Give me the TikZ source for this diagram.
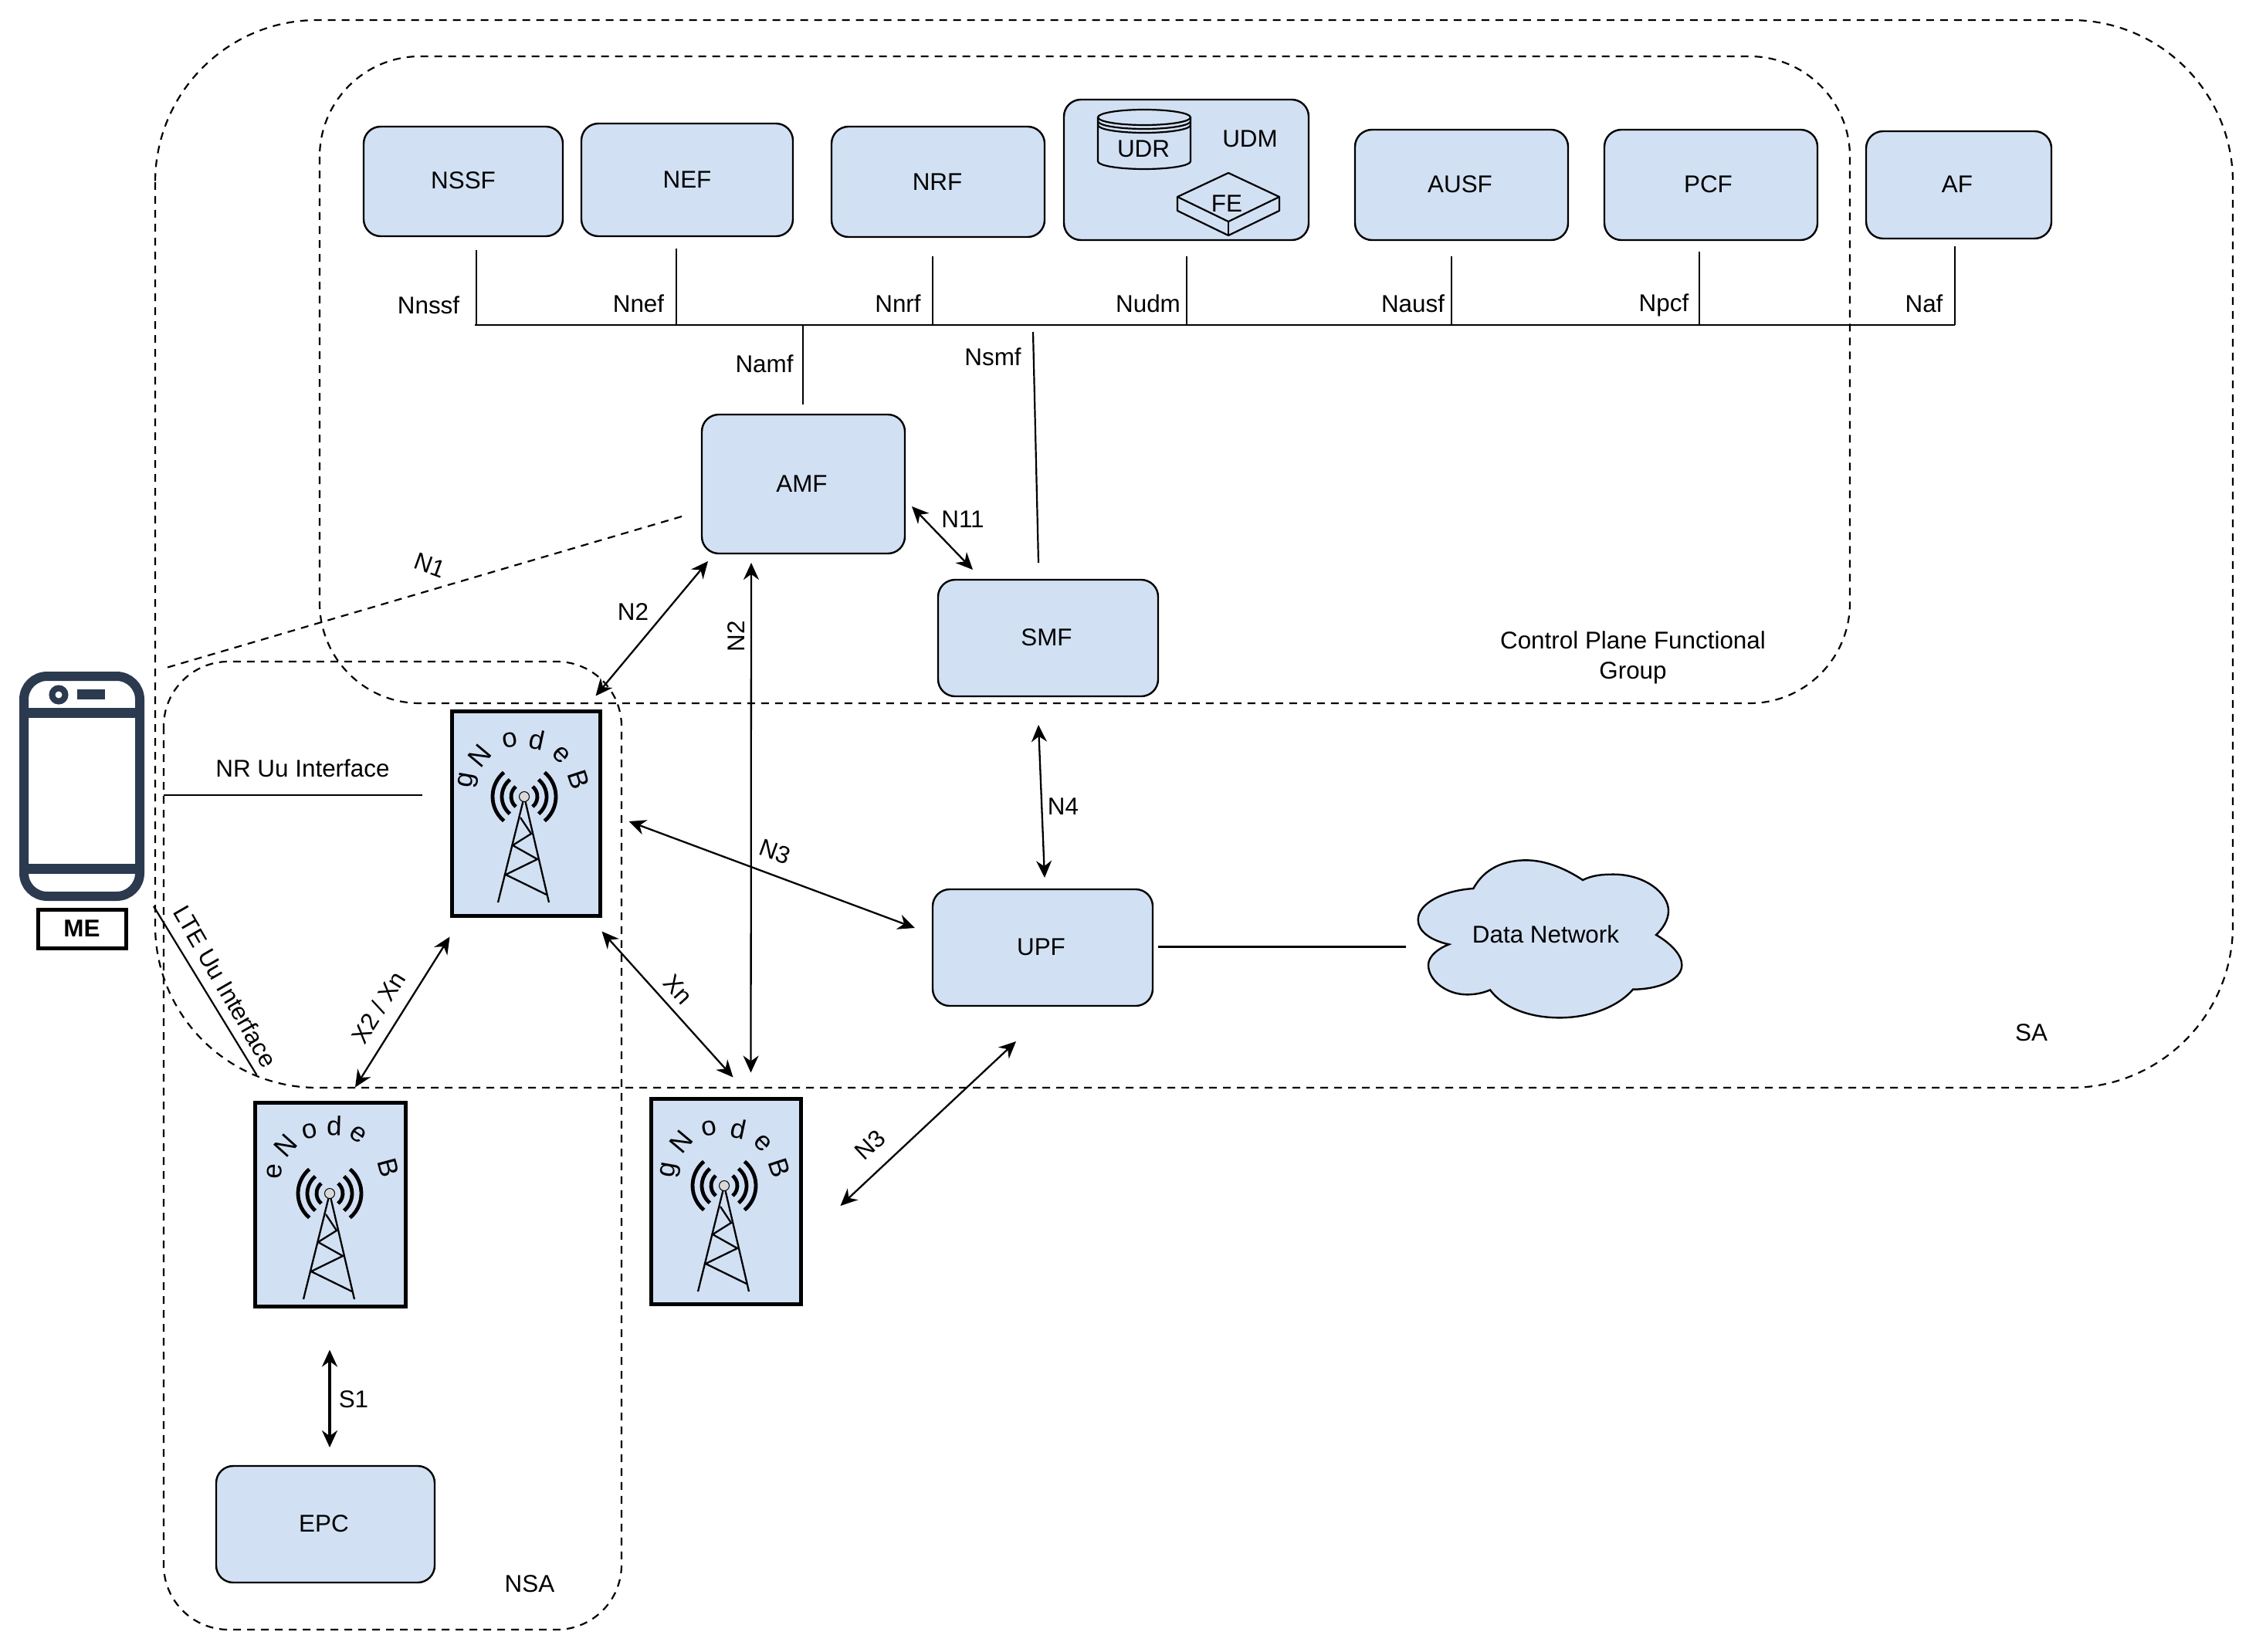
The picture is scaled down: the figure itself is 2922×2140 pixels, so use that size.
\documentclass[tikz,border=0pt]{standalone}
\usepackage{fontspec}
\setmainfont{Liberation Sans}
\usetikzlibrary{arrows.meta,calc}
\definecolor{fnblue}{HTML}{D2E0F3}
\definecolor{phonecol}{HTML}{2B3A4F}
\tikzset{
  every node/.style={font=\fontsize{15.7pt}{19.5pt}\selectfont,text=black},
  fnbox/.style={draw=black,fill=fnblue,line width=1.2pt,rounded corners=11pt,outer sep=0pt,inner sep=0pt},
  bsbox/.style={draw=black,fill=fnblue,line width=2.8pt,outer sep=0pt,inner sep=0pt},
  grp/.style={draw=black,line width=1.1pt,dash pattern=on 5pt off 4pt},
  wire/.style={draw=black,line width=1.1pt},
  bi/.style={draw=black,line width=1.15pt,{Stealth[length=11pt,width=10pt]}-{Stealth[length=11pt,width=10pt]}},
  lbl/.style={inner sep=0pt,align=center},
  ltr/.style={inner sep=0pt,font=\fontsize{17.5pt}{20pt}\selectfont},
  wave/.style={line width=2.4pt,draw=black},
  tw/.style={line width=1.15pt,draw=black},
}
\newcommand{\bxx}[7]{%
  \pgfmathsetmacro\myCx{(#3+#5)/2}\pgfmathsetmacro\myCy{(#4+#6)/2}%
  \pgfmathsetmacro\myW{(#5-#3)*0.5}\pgfmathsetmacro\myH{(#6-#4)*0.5}%
  \node[#1,minimum width=\myW pt,minimum height=\myH pt] (#2) at (\myCx,\myCy) {#7};}
\newcommand{\tx}[3]{\hspace*{#1}\raisebox{#2}{#3}}
\newcommand{\lb}[5]{\node[lbl,rotate=#4] (#1) at (#2,#3) {#5};}
\newcommand{\lt}[5]{\node[ltr,rotate=#4] (#1) at (#2,#3) {#5};}
\newcommand{\tower}[2]{%
  \begin{scope}[shift={(#1,#2)}]
    \foreach \rr in {17,29,41}{
      \draw[wave] (96,113) ++(130:\rr) arc[start angle=130,end angle=230,radius=\rr];
      \draw[wave] (96,113) ++(50:\rr) arc[start angle=50,end angle=-50,radius=\rr];
    }
    \draw[tw] (62,250) -- (96,113) -- (128,250);
    \draw[tw] (91,140) -- (105,161) -- (81,176) -- (113,194) -- (72,214) -- (125,240);
    \filldraw[line width=0.5pt,draw=black,fill=black!15] (96,113) circle[radius=6.5];
  \end{scope}}
\begin{document}
\begin{tikzpicture}[x=0.5pt,y=-0.5pt]
\useasboundingbox (0,0) rectangle (2922,2140);
\fill[white] (0,0) rectangle (2922,2140);
% groups
\draw[grp,rounded corners=105pt] (201,26) rectangle (2892,1409);
\draw[grp,rounded corners=65pt] (414,73) rectangle (2396,911);
\draw[grp,rounded corners=42pt] (212,857) rectangle (805,2111);
% functions
\bxx{fnbox}{nssf}{471}{164}{729}{306}{\tx{0pt}{1pt}{NSSF}}
\bxx{fnbox}{nef}{753}{160}{1027}{306}{NEF}
\bxx{fnbox}{nrf}{1077}{164}{1353}{307}{\tx{-1pt}{0pt}{NRF}}
\bxx{fnbox}{udm}{1378}{129}{1695}{311}{}
\bxx{fnbox}{ausf}{1755}{168}{2031}{311}{\tx{-2pt}{1pt}{AUSF}}
\bxx{fnbox}{pcf}{2078}{168}{2354}{311}{\tx{-3.5pt}{1pt}{PCF}}
\bxx{fnbox}{af}{2417}{170}{2657}{309}{\tx{-2pt}{1pt}{AF}}
\bxx{fnbox}{amf}{909}{537}{1172}{717}{\tx{-2pt}{0pt}{AMF}}
\bxx{fnbox}{smf}{1215}{751}{1500}{902}{\tx{-2pt}{1pt}{SMF}}
\bxx{fnbox}{upf}{1208}{1152}{1493}{1303}{\tx{-2pt}{1pt}{UPF}}
\bxx{fnbox}{epc}{280}{1899}{563}{2050}{\tx{-2pt}{1pt}{EPC}}
% UDM content
\lb{udmlabel}{1619}{180}{0}{UDM}
\draw[line width=1.1pt,fill=fnblue] (1422,152) -- (1422,209) arc[start angle=180,end angle=0,x radius=60,y radius=10] -- (1542,152);
\draw[line width=1.1pt] (1482,152) ellipse[x radius=60,y radius=10];
\draw[line width=1.1pt] (1422,157) arc[start angle=180,end angle=0,x radius=60,y radius=10];
\draw[line width=1.1pt] (1422,162) arc[start angle=180,end angle=0,x radius=60,y radius=10];
\lb{udrlabel}{1481}{193}{0}{UDR}
\draw[line width=1.1pt,line join=round] (1591,224) -- (1657,255) -- (1591,287) -- (1525,255) -- cycle;
\draw[line width=1.1pt,line join=round] (1525,255) -- (1525,273) -- (1591,305) -- (1657,273) -- (1657,255);
\draw[line width=1.1pt] (1591,287) -- (1591,305);
\lb{felabel}{1589}{264}{0}{FE}
% base stations
\bxx{bsbox}{gnba}{585.5}{921.5}{777.5}{1186.5}{}
\bxx{bsbox}{enb}{330.5}{1428.5}{525.5}{1692.5}{}
\bxx{bsbox}{gnbb}{843.5}{1423.5}{1037.5}{1689.5}{}
\tower{583}{919}
\tower{331}{1433}
\tower{842}{1423}
\lt{ga1}{607}{1011}{80}{g}\lt{ga2}{621}{979}{50}{N}\lt{ga3}{660}{959}{10}{o}\lt{ga4}{696}{958}{-12}{d}\lt{ga5}{727}{978}{-45}{e}\lt{ga6}{750}{1010}{-72}{B}
\lt{ea1}{356}{1517}{88}{e}\lt{ea2}{370}{1484}{48}{N}\lt{ea3}{401}{1465}{12}{o}\lt{ea4}{433}{1458}{-2}{d}\lt{ea5}{464}{1469}{-35}{e}\lt{ea6}{503}{1513}{-75}{B}
\lt{gb1}{869}{1516}{80}{g}\lt{gb2}{882}{1479}{50}{N}\lt{gb3}{918}{1462}{10}{o}\lt{gb4}{957}{1462}{-12}{d}\lt{gb5}{988}{1481}{-45}{e}\lt{gb6}{1010}{1513}{-72}{B}
% cloud
\begin{scope}[shift={(1800,1080)},x=0.16667pt,y=-0.16667pt]
\filldraw[fill=fnblue,draw=black,line width=1.2pt] (325,213) .. controls (370,130) and (450,103) .. (530,103) .. controls (610,103) and (690,140) .. (750,180)
 .. controls (790,160) and (830,158) .. (870,158) .. controls (990,158) and (1083,230) .. (1083,300) .. controls (1083,335) and (1060,370) .. (1035,393)
 .. controls (1090,425) and (1135,470) .. (1135,510) .. controls (1135,570) and (1040,605) .. (945,605)
 .. controls (890,670) and (780,715) .. (660,715) .. controls (540,715) and (440,675) .. (390,607)
 .. controls (360,620) and (330,625) .. (300,625) .. controls (220,625) and (150,570) .. (150,510) .. controls (150,475) and (190,445) .. (230,430)
 .. controls (160,415) and (110,380) .. (110,335) .. controls (110,270) and (210,220) .. (325,213) -- cycle;
\end{scope}
\lb{cloud}{2002}{1210}{0}{Data Network}
\coordinate (cloudw) at (1821,1226);
% phone
\node[draw=phonecol,fill=white,line width=6pt,rounded corners=15pt,minimum width=75pt,minimum height=142.5pt,outer sep=0pt,inner sep=0pt] (phone) at (106,1018.5) {};
\draw[phonecol,line width=6.5pt] (phone.west |- 0,923) -- (phone.east |- 0,923);
\draw[phonecol,line width=6.5pt] (phone.west |- 0,1125) -- (phone.east |- 0,1125);
\draw[phonecol,line width=4pt] (76,900) circle[radius=8.5];
\fill[phonecol] (100,893) rectangle (136,906);
\node[draw=black,line width=2.5pt,minimum width=57pt,minimum height=25pt,inner sep=0pt,outer sep=0pt,font=\fontsize{15.7pt}{19.5pt}\selectfont\bfseries] (me) at (106,1203) {ME};
% service bus
\coordinate (busl) at (615,421);
\coordinate (busr) at (2532,421);
\coordinate (nsmftop) at (1338,430);
\draw[wire] (busl) -- (busr);
\draw[wire] ($(nssf.south)+(17,18)$) |- (busl);
\draw[wire] ($(nef.south)+(-14,16)$) |- (busl);
\draw[wire] ($(nrf.south)+(-7,25)$) |- (busl);
\draw[wire] ($(udm.south)+(0.5,21)$) |- (busl);
\draw[wire] ($(ausf.south)+(-13,21)$) |- (busl);
\draw[wire] ($(pcf.south)+(-15,15)$) |- (busl);
\draw[wire] ($(af.south)+(-5,10)$) |- (busr);
\draw[wire] ($(amf.north)+(-0.5,-13)$) |- (busl);
\draw[wire] (nsmftop) -- ($(smf.north)+(-12.5,-22)$);
% links
\draw[wire,dash pattern=on 5pt off 4pt] ($(amf.west)+(-26,42)$) -- ($(phone.north east)+(31,-10)$);
\draw[bi] ($(amf.south west)+(8,10)$) -- ($(gnba.north east)+(-6,-20)$);
\draw[bi] ($(amf.east)+(9,29)$) -- ($(smf.north west)+(45,-13)$);
\draw[bi] ($(amf.south)+(-67.5,12)$) -- ($(gnbb.north west)+(129,-34)$);
\draw[bi] ($(smf.south)+(-12.5,37)$) -- ($(upf.north)+(2.5,-15)$);
\draw[bi] ($(gnba.east)+(37,10)$) -- ($(upf.west)+(-23,-25.5)$);
\draw[bi] ($(gnba.south east)+(2,20)$) -- ($(gnbb.north west)+(106,-28)$);
\draw[bi] ($(gnba.south west)+(-3,27)$) -- ($(enb.north)+(32,-20)$);
\draw[bi] ($(upf.south)+(-34.5,46)$) -- ($(gnbb.east)+(51,5.5)$);
\draw[bi,line width=1.6pt] ($(enb.south)+(-1,56)$) -- ($(epc.north)+(5.5,-24)$);
\draw[wire,line width=1.5pt] ($(upf.east)+(7,-1.5)$) -- (cloudw);
\draw[wire] ($(phone.east)+(31,11.5)$) -- ($(gnba.west)+(-39,-24)$);
\draw[wire] ($(phone.south east)+(18,13)$) -- ($(enb.north west)+(2,-36)$);
% labels
\lb{lnssf}{555}{395}{0}{Nnssf}
\lb{lnef}{827}{393}{0}{Nnef}
\lb{lnrf}{1163}{393}{0}{Nnrf}
\lb{lnudm}{1487}{393}{0}{Nudm}
\lb{lnausf}{1830}{393}{0}{Nausf}
\lb{lnpcf}{2155}{395}{0}{Npcf}
\lb{lnaf}{2492}{393}{0}{Naf}
\lb{lnamf}{990}{471}{0}{Namf}
\lb{lnsmf}{1286}{462}{0}{Nsmf}
\lb{ln1}{557}{732}{-20}{N1}
\lb{ln2a}{820}{793}{0}{N2}
\lb{ln2b}{954}{824}{90}{N2}
\lb{ln11}{1247}{673}{0}{N11}
\lb{ln4}{1377}{1045}{0}{N4}
\lb{ln3a}{1004}{1103}{-20}{N3}
\lb{ln3b}{1127}{1483}{43}{N3}
\lb{lxn}{878}{1282}{-48}{Xn}
\lb{lx2}{490}{1305}{58}{X2 / Xn}
\lb{ls1}{458}{1813}{0}{S1}
\lb{lnr}{392}{995}{0}{NR Uu Interface}
\lb{llte}{292}{1278}{-60}{LTE Uu Interface}
\lb{lcp}{2115}{852}{0}{Control Plane Functional\\Group}
\lb{lsa}{2631}{1338}{0}{SA}
\lb{lnsa}{686}{2052}{0}{NSA}
\end{tikzpicture}
\end{document}
